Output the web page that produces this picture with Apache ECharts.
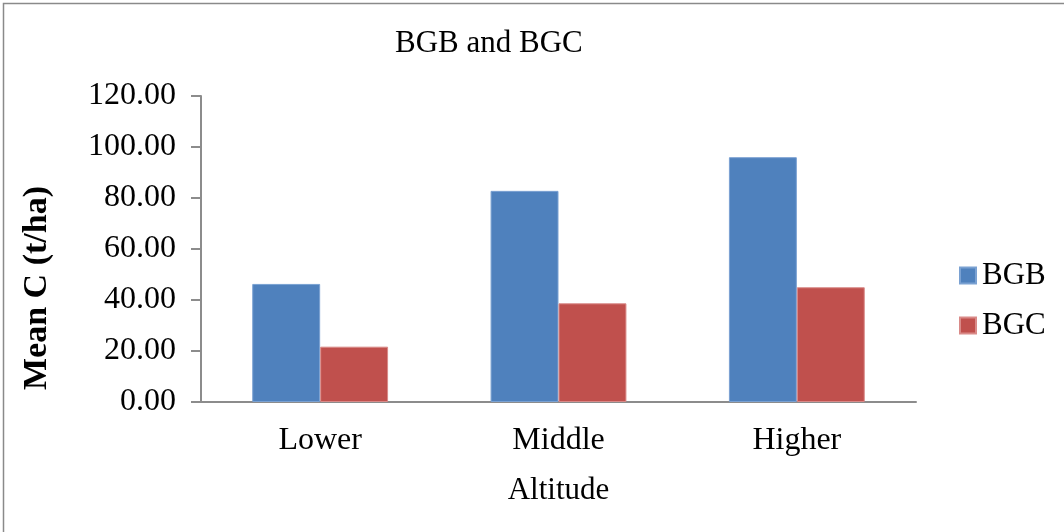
<!DOCTYPE html>
<html>
<head>
<meta charset="utf-8">
<script src="https://cdn.jsdelivr.net/npm/echarts@6/dist/echarts.min.js"></script>
<style>
html,body{margin:0;padding:0;background:#fff;}
#chart{width:1064px;height:532px;}
</style>
</head>
<body>
<div id="chart"></div>
<script>
const categories = ['Lower', 'Middle', 'Higher'];
const bgbValues = [46.3, 82.8, 96.0];
const bgcValues = [21.7, 38.7, 45.0];
const yTicks = [0, 20, 40, 60, 80, 100, 120];
const titleText = 'BGB and BGC';
const xName = 'Altitude';
const yName = 'Mean C (t/ha)';

const FONT = '"Liberation Serif", "Times New Roman", serif';
const chart = echarts.init(document.getElementById('chart'));
chart.setOption({
  backgroundColor: '#fff',
  animation: false,
  title: {
    text: titleText,
    left: 390, top: 23,
    textStyle: {fontFamily: FONT, fontSize: 31, fontWeight: 'normal', color: '#000'}
  },
  legend: {
    orient: 'vertical',
    left: 959, top: 260, padding: 0,
    itemWidth: 16, itemHeight: 16, itemGap: 19,
    icon: 'rect',
    textStyle: {fontFamily: FONT, fontSize: 31, color: '#000', padding: [0,0,0,1]},
    data: ['BGB', 'BGC']
  },
  grid: {left: 201, right: 148, top: 96, bottom: 130, containLabel: false},
  xAxis: {
    type: 'category',
    data: categories,
    name: xName,
    nameLocation: 'middle',
    nameGap: 73,
    nameTextStyle: {fontFamily: FONT, fontSize: 31, color: '#000'},
    axisLine: {lineStyle: {color: '#8c8c8c', width: 2}},
    axisTick: {show: false},
    axisLabel: {fontFamily: FONT, fontSize: 32, color: '#000', margin: 23}
  },
  yAxis: {
    type: 'value',
    min: yTicks[0], max: yTicks[yTicks.length - 1], interval: 20,
    axisLine: {show: true, lineStyle: {color: '#8c8c8c', width: 2}},
    axisTick: {show: true, length: 10, lineStyle: {color: '#8c8c8c', width: 2}},
    splitLine: {show: false},
    axisLabel: {fontFamily: FONT, fontSize: 32, color: '#000', margin: 25,
      formatter: v => v.toFixed(2)}
  },
  graphic: [
    {type: 'rect', shape: {x: 3.5, y: 3.5, width: 1300, height: 1000},
      style: {fill: 'none', stroke: '#8a8a8a', lineWidth: 1.5}, silent: true, z: -1},
    {type: 'text', x: 37, y: 288, rotation: Math.PI / 2,
      style: {text: yName, font: 'bold 34px ' + FONT, fill: '#000',
        textAlign: 'center', textVerticalAlign: 'middle'}}
  ],
  series: [
    {name: 'BGB', type: 'bar', data: bgbValues, barGap: '0%', barCategoryGap: '43%',
      itemStyle: {color: '#4F81BD', borderColor: '#7aa1d2', borderWidth: 1}},
    {name: 'BGC', type: 'bar', data: bgcValues,
      itemStyle: {color: '#C0504D', borderColor: '#d98a88', borderWidth: 1}}
  ]
});
</script>
</body>
</html>
